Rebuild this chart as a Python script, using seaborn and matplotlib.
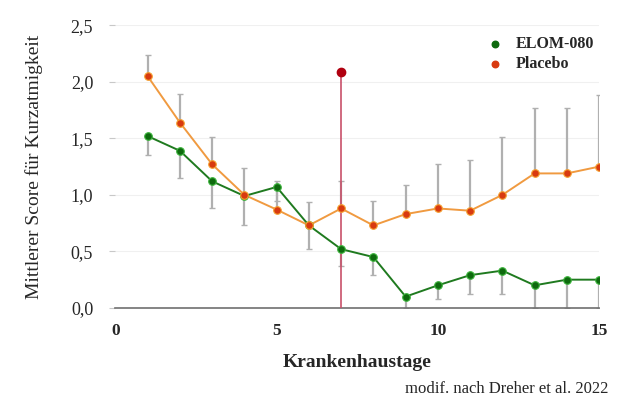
import numpy as np
import pandas as pd
import seaborn as sns
import matplotlib.pyplot as plt

days = list(range(1, 16))
elom = [1.52, 1.39, 1.12, 0.99, 1.07, 0.73, 0.52, 0.45, 0.10, 0.20, 0.29, 0.33, 0.20, 0.25, 0.25]
elom_low = [1.35, 1.15, 0.88, 0.73, 0.95, 0.52, 0.37, 0.29, 0.0, 0.08, 0.12, 0.12, 0.0, 0.0, 0.0]
placebo = [2.05, 1.64, 1.27, 1.00, 0.87, 0.73, 0.88, 0.73, 0.83, 0.88, 0.86, 1.00, 1.19, 1.19, 1.25]
placebo_high = [2.24, 1.89, 1.51, 1.24, 1.12, 0.94, 1.12, 0.95, 1.09, 1.27, 1.31, 1.51, 1.77, 1.77, 1.88]
marker_day = 7
marker_value = 2.09

df = pd.DataFrame({
    "Tag": days * 2,
    "Score": elom + placebo,
    "Gruppe": ["ELOM-080"] * 15 + ["Placebo"] * 15,
})

sns.set_style("white")
plt.rcParams["font.family"] = ["Liberation Serif", "DejaVu Serif"]

fig = plt.figure(figsize=(6.34, 4.15), dpi=100)
ax = fig.add_axes([0.182, 0.258, 0.763, 0.681])

# one-sided error bars
e = np.array(elom)
p = np.array(placebo)
ax.errorbar(days, e, yerr=[e - np.array(elom_low), np.zeros_like(e)], fmt="none",
            ecolor="#b0b0b0", elinewidth=1.6, capsize=2, capthick=1, zorder=2)
ax.errorbar(days, p, yerr=[np.zeros_like(p), np.array(placebo_high) - p], fmt="none",
            ecolor="#b0b0b0", elinewidth=1.6, capsize=2, capthick=1, zorder=2)

# red marker line at day 7
ax.plot([marker_day, marker_day], [0, marker_value], color="#c8506a", lw=1.2, zorder=3)
ax.plot([marker_day], [marker_value], "o", color="#b00010", ms=6, zorder=4)

palette = {"ELOM-080": "#1f7a1f", "Placebo": "#f09a40"}
sns.lineplot(data=df, x="Tag", y="Score", hue="Gruppe", palette=palette, lw=1.4,
             legend=False, ax=ax, zorder=5)
ax.scatter(days, elom, s=30, color="#0e6a0e", edgecolor="#3cb43c", lw=0.8, zorder=6)
ax.scatter(days, placebo, s=30, color="#d83a10", edgecolor="#f5a030", lw=0.8, zorder=6)

# legend: markers only
ax.scatter([], [], s=22, color="#0e6a0e", label="ELOM-080")
ax.scatter([], [], s=22, color="#d83a10", label="Placebo")
leg = ax.legend(loc="upper right", bbox_to_anchor=(1.01, 0.995), frameon=False,
                handletextpad=0.3, labelspacing=0.25, borderaxespad=0.2,
                prop={"weight": "bold", "size": 11.5})

ax.set_xlim(0, 15)
ax.set_ylim(0, 2.5)
ax.set_xticks([0, 5, 10, 15])
ax.set_yticks([0, 0.5, 1.0, 1.5, 2.0, 2.5])
ax.set_yticklabels(["0,0", "0,5", "1,0", "1,5", "2,0", "2,5"])
ax.grid(axis="y", color="#f0f0f0", lw=0.8)
ax.tick_params(axis="y", left=True, length=4, color="#c8c8c8", labelsize=13, pad=12)
ax.tick_params(axis="x", bottom=False, labelsize=12.5, pad=7)
for lab in ax.get_xticklabels():
    lab.set_fontweight("bold")
for s in ["left", "right", "top"]:
    ax.spines[s].set_visible(False)
ax.spines["bottom"].set_color("#707070")
ax.spines["bottom"].set_linewidth(1.2)

ax.set_xlabel("Krankenhaustage", fontsize=14, fontweight="bold", labelpad=11)
ax.set_ylabel("Mittlerer Score für Kurzatmigkeit", fontsize=14, labelpad=20)
fig.text(0.96, 0.062, "modif. nach Dreher et al. 2022", ha="right", va="center", fontsize=12)

fig.savefig("out.png", dpi=100)
